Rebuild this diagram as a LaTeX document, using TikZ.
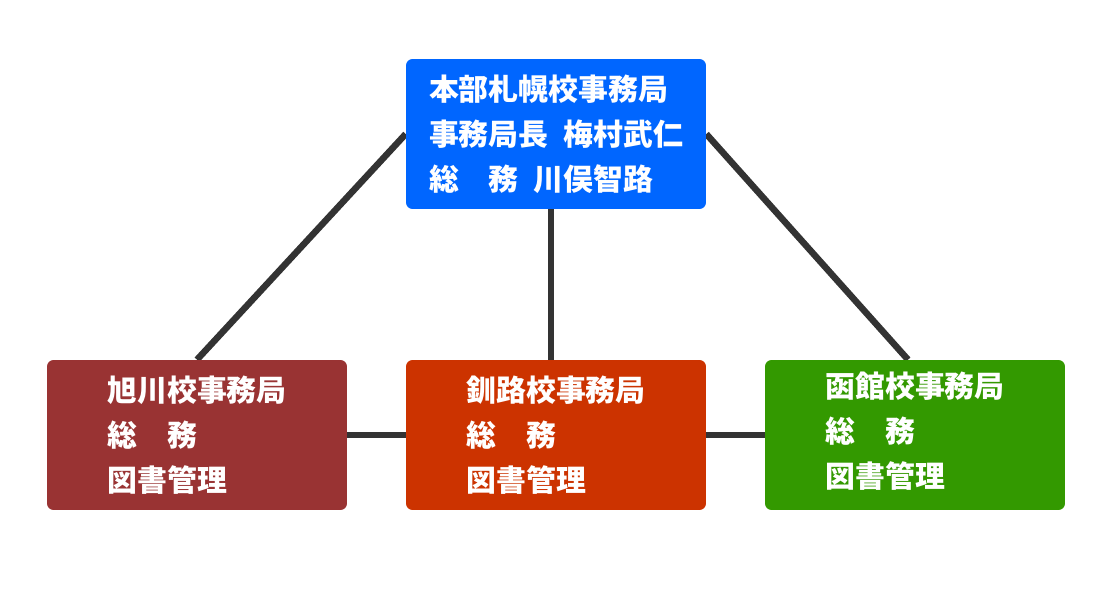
\documentclass[tikz,border=0pt]{standalone}
\usepackage{fontspec}
\newfontfamily\jpfont{Noto Sans CJK JP}
\usepackage{tikz}
\usetikzlibrary{positioning, backgrounds}
\definecolor{honbublue}{HTML}{0066FF}
\definecolor{asahired}{HTML}{993333}
\definecolor{kushiroorange}{HTML}{CC3300}
\definecolor{hakogreen}{HTML}{339900}
\definecolor{linkgray}{HTML}{333333}
\tikzset{
  office/.style={rectangle, rounded corners=0.13cm, minimum width=6cm, minimum height=3cm,
    inner sep=0pt, align=left, text=white, font=\jpfont\bfseries\fontsize{17}{25.5}\selectfont},
  link/.style={linkgray, line width=0.13cm}
}
\newcommand{\gap}{\hspace{0.5em}}

\begin{document}
\begin{tikzpicture}[x=0.02cm, y=-0.02cm]
\useasboundingbox (0,0) rectangle (1110,600);

% Head office
\node[office, fill=honbublue] (honbu) at (556,134)
{本部札幌校事務局\\事務局長\gap 梅村武仁\\総　務\gap 川俣智路};

% -------- Branch offices --------
\node[office, fill=asahired] (asahikawa) at (197,435)
{旭川校事務局\\総　務\\図書管理};
\node[office, fill=kushiroorange] (kushiro) at (556,435)
{釧路校事務局\\総　務\\図書管理};
\node[office, fill=hakogreen, text height=2.15cm] (hakodate) at (915,435)
{函館校事務局\\総　務\\図書管理};

% Connections
\begin{scope}[on background layer]
\draw[link] (honbu.west) -- (asahikawa.north);
\draw[link] ([xshift=-0.1cm]honbu.south) -- ([xshift=-0.1cm]kushiro.north);
\draw[link] (honbu.east) -- ([xshift=-0.14cm]hakodate.north);
\draw[link] (asahikawa.east) -- (kushiro.west);
\draw[link] (kushiro.east) -- (hakodate.west);
\end{scope}

\end{tikzpicture}
\end{document}
